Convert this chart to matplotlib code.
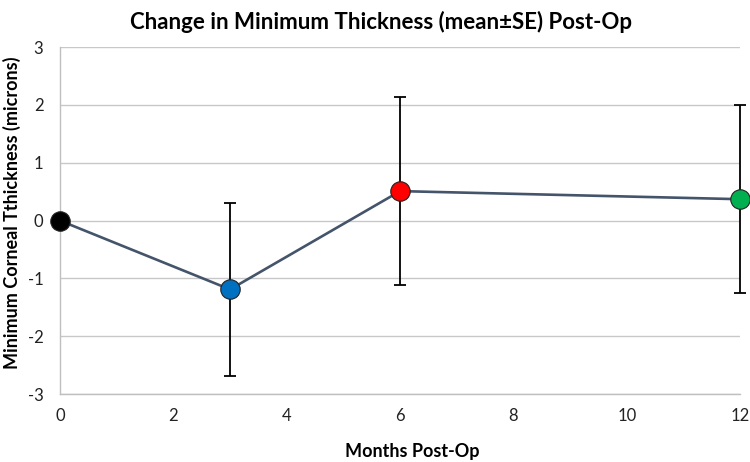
import matplotlib
matplotlib.use("Agg")
import matplotlib.pyplot as plt

plt.rcParams['font.family'] = ['Lato', 'DejaVu Sans']
plt.rcParams['axes.unicode_minus'] = False

# data
months = [0, 3, 6, 12]
mean_change = [0.0, -1.19, 0.51, 0.37]
se = [0.0, 1.49, 1.62, 1.63]
point_colors = ['#000000', '#0070C0', '#FF0000', '#00B050']
x_ticks = [0, 2, 4, 6, 8, 10, 12]
y_ticks = [-3, -2, -1, 0, 1, 2, 3]

fig = plt.figure(figsize=(7.5, 4.62), dpi=100)
ax = fig.add_axes([0.08, 0.147, 0.907, 0.751])

ax.plot(months, mean_change, color='#44546A', lw=1.9, zorder=3, clip_on=False)
ax.errorbar(months[1:], mean_change[1:], yerr=se[1:], fmt='none', ecolor='black',
            elinewidth=1.3, capsize=4, capthick=1.3, zorder=4, clip_on=False)
for x, y, c in zip(months, mean_change, point_colors):
    ax.plot(x, y, 'o', ms=14, mfc=c, mec='#222222', mew=0.8, zorder=5, clip_on=False)

ax.set_xlim(0, 12)
ax.set_ylim(-3, 3)
ax.set_xticks(x_ticks)
ax.set_yticks(y_ticks)
ax.tick_params(length=0, labelsize=12, colors='#222222', pad=10)
ax.tick_params(axis='y', pad=12)
ax.yaxis.grid(True, color='#C8C8C8', lw=1)
ax.set_axisbelow(True)
for s in ['top', 'right']:
    ax.spines[s].set_visible(False)
for s in ['left', 'bottom']:
    ax.spines[s].set_color('#BFBFBF')
    ax.spines[s].set_linewidth(1)

fig.text(0.508, 0.953, 'Change in Minimum Thickness (mean\u00b1SE) Post-Op',
         ha='center', va='center', fontsize=16, fontweight='bold')
fig.text(0.549, 0.022, 'Months Post-Op', ha='center', va='center',
         fontsize=13, fontweight='bold')
fig.text(0.016, 0.54, 'Minimum Corneal Tthickness (microns)', ha='center', va='center',
         rotation=90, fontsize=13, fontweight='bold')

fig.savefig('out.png', dpi=100)
